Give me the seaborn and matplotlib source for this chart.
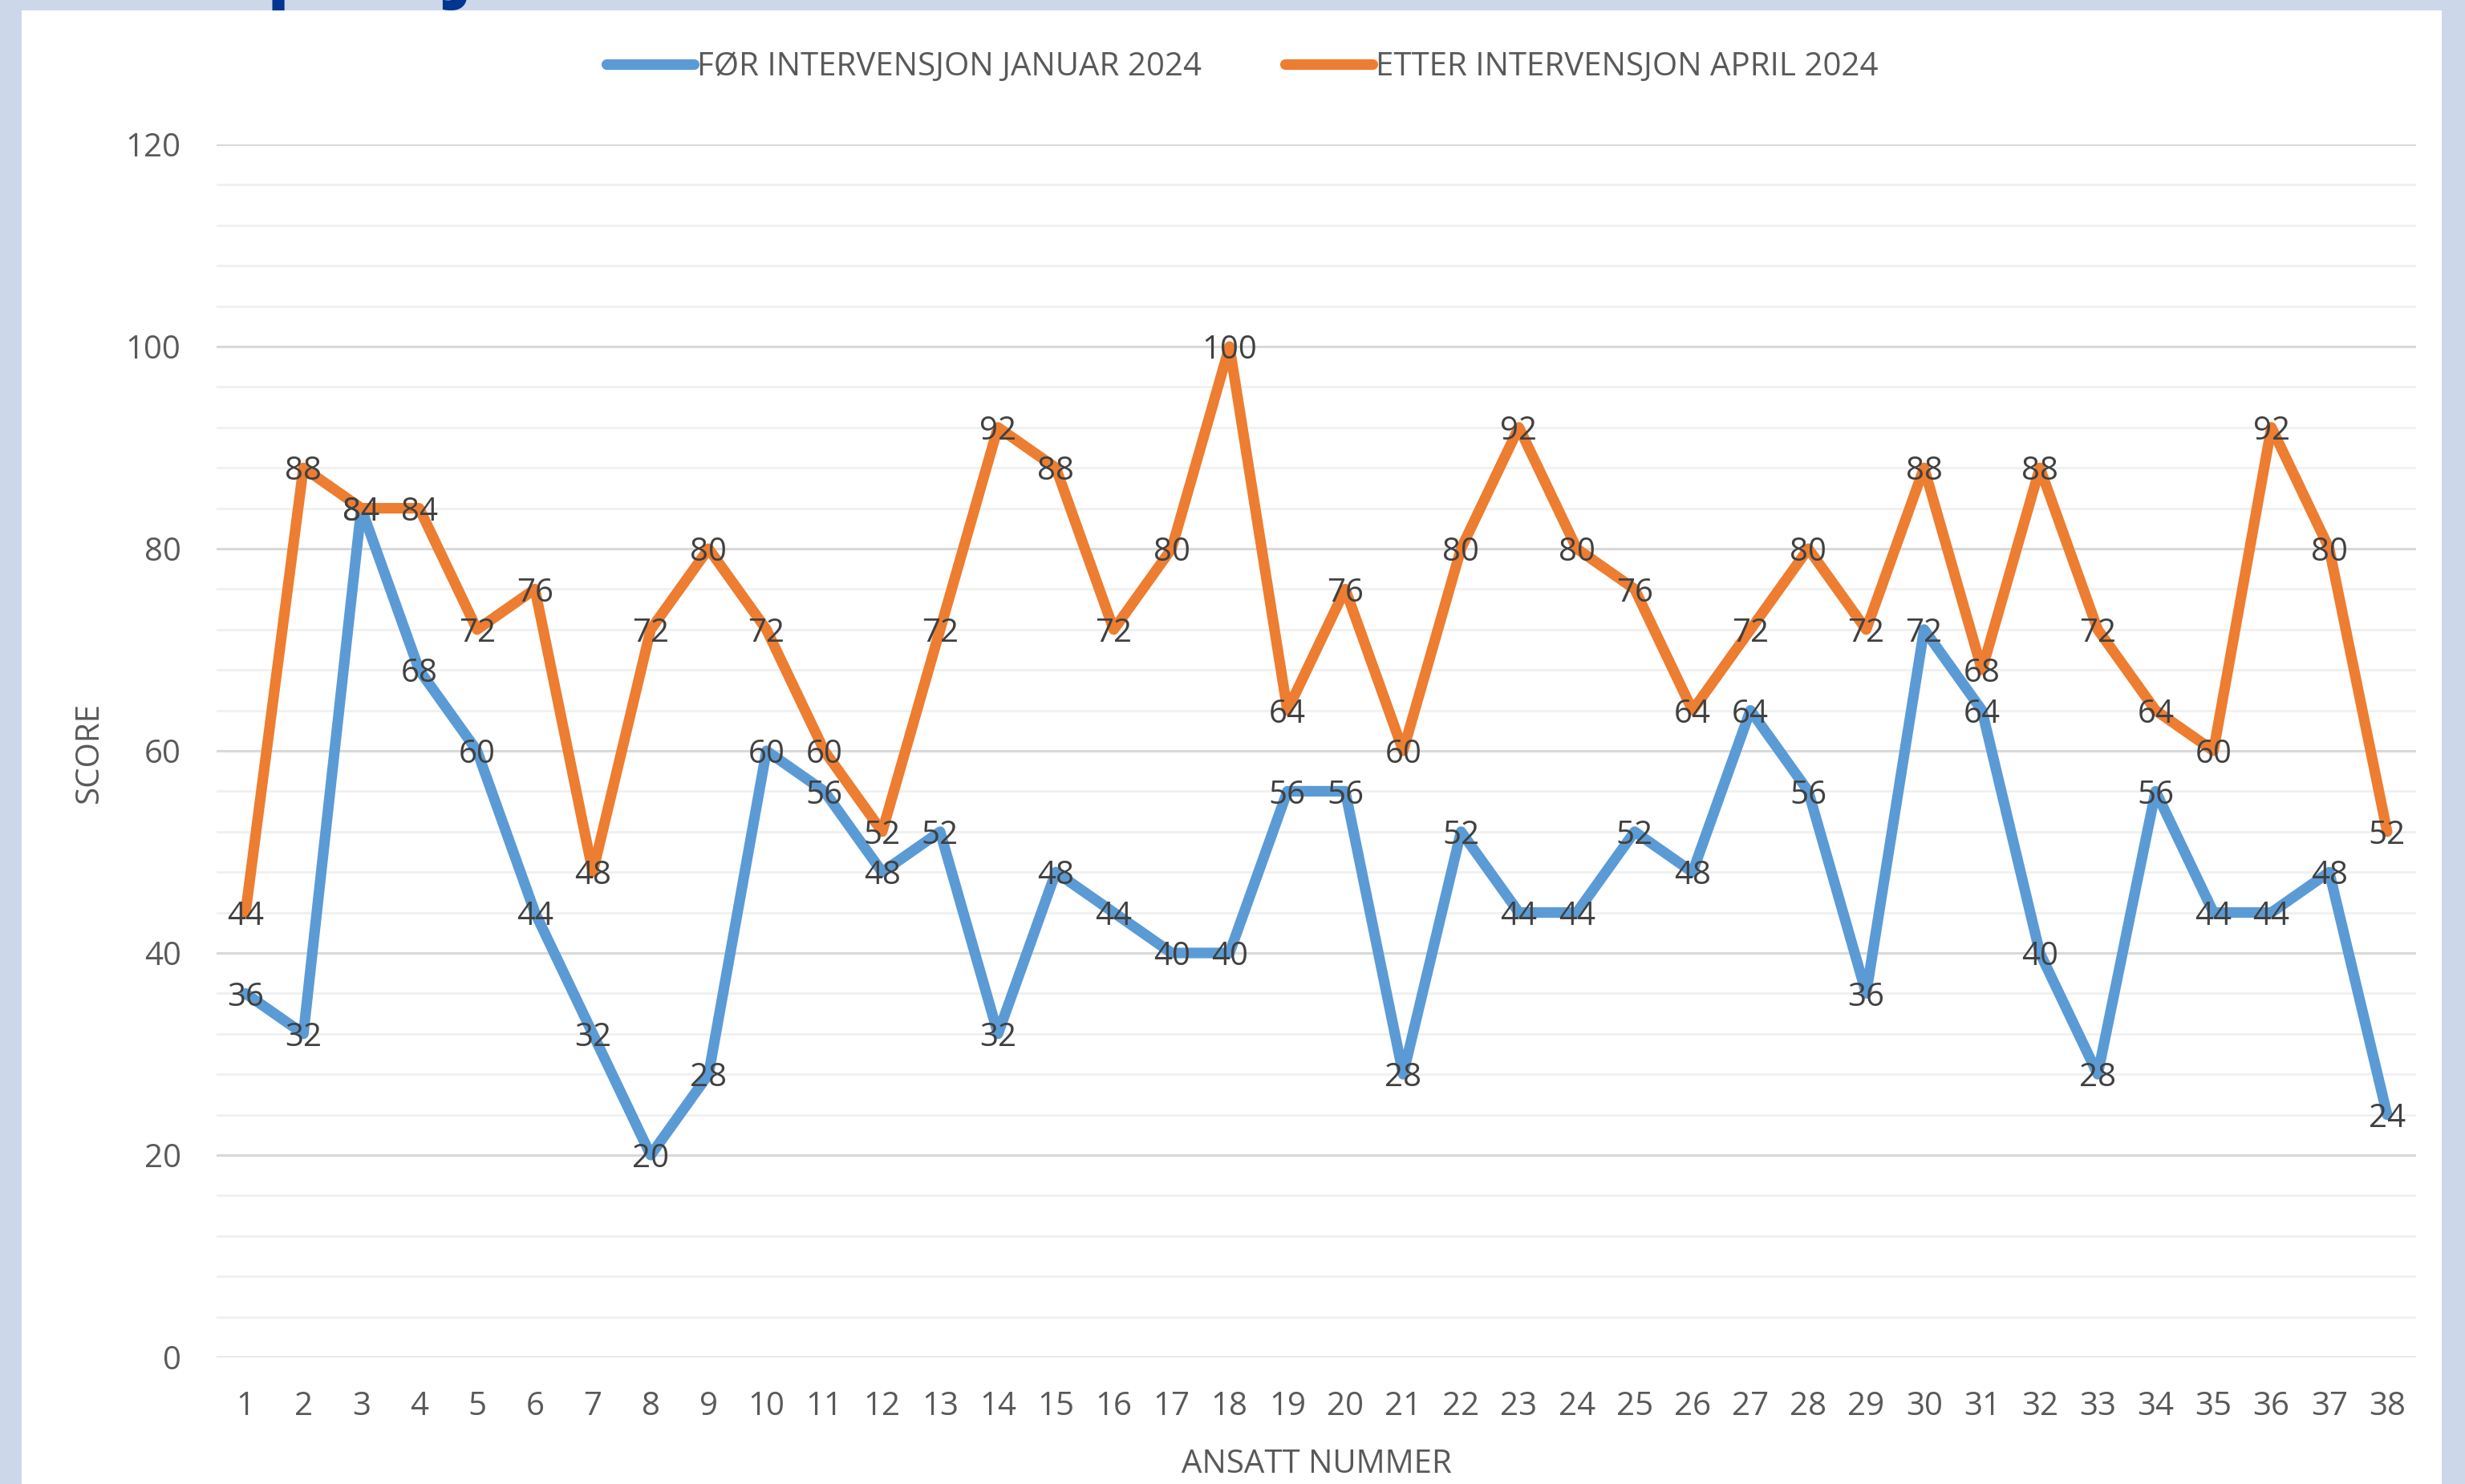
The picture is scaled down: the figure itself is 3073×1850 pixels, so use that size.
import numpy as np
import pandas as pd
import matplotlib.pyplot as plt
import seaborn as sns
from matplotlib.ticker import MultipleLocator
from matplotlib.lines import Line2D
from matplotlib.patches import Rectangle

# data
ansatt = list(range(1, 39))
for_jan = [36, 32, 84, 68, 60, 44, 32, 20, 28, 60, 56, 48, 52, 32, 48, 44, 40, 40, 56,
           56, 28, 52, 44, 44, 52, 48, 64, 56, 36, 72, 64, 40, 28, 56, 44, 44, 48, 24]
etter_apr = [44, 88, 84, 84, 72, 76, 48, 72, 80, 72, 60, 52, 72, 92, 88, 72, 80, 100, 64,
             76, 60, 80, 92, 80, 76, 64, 72, 80, 72, 88, 68, 88, 72, 64, 60, 92, 80, 52]
serie_navn = ["FØR INTERVENSJON JANUAR 2024", "ETTER INTERVENSJON APRIL 2024"]
farger = ["#5b9bd5", "#ed7d31"]

df = pd.DataFrame({"Ansatt": ansatt * 2,
                   "Score": for_jan + etter_apr,
                   "Serie": [serie_navn[0]] * 38 + [serie_navn[1]] * 38})

sns.set_style("white")
plt.rcParams['font.family'] = ['Open Sans', 'DejaVu Sans']
fs = 29
txt = "#595959"

fig = plt.figure(figsize=(30.73, 18.5), dpi=100, facecolor="#cdd7ea")
# white panel behind everything
fig.patches.append(Rectangle((27 / 3073, 0), (3044 - 27) / 3073, 1 - 13 / 1850,
                             transform=fig.transFigure, facecolor="white",
                             edgecolor="none", zorder=-5))
# cut-off slide title above the chart (only descenders show, as in the original)
fig.text(94 / 3073, 1 + 12 / 1850, "Pilotprosjekt", fontsize=75, fontweight="bold",
         color="#003591", va="baseline", ha="left")

ax = fig.add_axes([270 / 3073, 1 - 1692 / 1850, (3012 - 270) / 3073, (1692 - 180) / 1850])
ax.set_zorder(2)
ax.set_facecolor("none")

sns.lineplot(data=df, x="Ansatt", y="Score", hue="Serie", palette=farger, ax=ax,
             linewidth=9.5, legend=False, zorder=3)
for ln in ax.lines:
    ln.set_solid_joinstyle("round")
    ln.set_solid_capstyle("round")

# data labels centred on the points
for vals in (for_jan, etter_apr):
    for x, y in zip(ansatt, vals):
        ax.text(x, y, str(y), ha="center", va="center_baseline", fontsize=fs,
                color="#404040", zorder=5)

ax.set_xlim(0.5, 38.5)
ax.set_ylim(0, 120)
ax.set_xticks(ansatt)
ax.set_xticklabels([str(a) for a in ansatt])
ax.yaxis.set_major_locator(MultipleLocator(20))
ax.yaxis.set_minor_locator(MultipleLocator(4))
ax.grid(axis="y", which="major", color="#d9d9d9", linewidth=2.2, zorder=0)
ax.grid(axis="y", which="minor", color="#f0f0f0", linewidth=2.0, zorder=0)
ax.grid(axis="x", visible=False)
ax.set_axisbelow(True)
ax.tick_params(axis="both", which="both", length=0, labelsize=fs, labelcolor=txt)
ax.tick_params(axis="x", pad=30)
ax.tick_params(axis="y", pad=32)
for s in ax.spines.values():
    s.set_visible(False)
ax.set_xlabel("")
ax.set_ylabel("")

fig.text(112 / 3073, 1 - 938 / 1850, "SCORE", rotation=90, ha="center", va="center",
         fontsize=fs, color=txt)
fig.text(1641 / 3073, 1 - 1826 / 1850, "ANSATT NUMMER", ha="center", va="center",
         fontsize=fs, color=txt)

handles = [Line2D([0], [0], color=c, linewidth=9.5, solid_capstyle="round") for c in farger]
fig.legend(handles, serie_navn, loc="center", bbox_to_anchor=(0.504, 1 - 84 / 1850),
           ncol=2, frameon=False, fontsize=fs, labelcolor=txt, handlelength=2.7,
           handletextpad=0.1, columnspacing=2.6)

fig.savefig("out.png", dpi=100, facecolor=fig.get_facecolor())
